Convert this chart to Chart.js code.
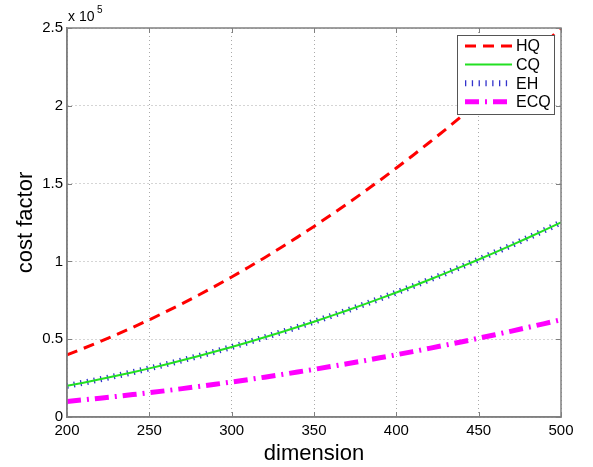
<!DOCTYPE html>
<html>
<head>
<meta charset="utf-8">
<script src="https://cdn.jsdelivr.net/npm/chart.js@4/dist/chart.umd.min.js"></script>
<style>
  html, body { margin: 0; padding: 0; background: #fff; }
  #wrap { width: 593px; height: 467px; }
</style>
</head>
<body>
<div id="wrap"><canvas id="cost-chart" width="593" height="467"></canvas></div>
<script>
// dimension values (x)
const dims = [200, 210, 220, 230, 240, 250, 260, 270, 280, 290, 300,
  310, 320, 330, 340, 350, 360, 370, 380, 390, 400,
  410, 420, 430, 440, 450, 460, 470, 480, 490, 500];

const hqCost = [40000, 44100, 48400, 52900, 57600, 62500, 67600, 72900, 78400, 84100, 90000,
  96100, 102400, 108900, 115600, 122500, 129600, 136900, 144400, 152100, 160000,
  168100, 176400, 184900, 193600, 202500, 211600, 220900, 230400, 240100, 250000];

const cqCost = [20000, 22050, 24200, 26450, 28800, 31250, 33800, 36450, 39200, 42050, 45000,
  48050, 51200, 54450, 57800, 61250, 64800, 68450, 72200, 76050, 80000,
  84050, 88200, 92450, 96800, 101250, 105800, 110450, 115200, 120050, 125000];

const ehCost = [20000, 22050, 24200, 26450, 28800, 31250, 33800, 36450, 39200, 42050, 45000,
  48050, 51200, 54450, 57800, 61250, 64800, 68450, 72200, 76050, 80000,
  84050, 88200, 92450, 96800, 101250, 105800, 110450, 115200, 120050, 125000];

const ecqCost = [10000, 11025, 12100, 13225, 14400, 15625, 16900, 18225, 19600, 21025, 22500,
  24025, 25600, 27225, 28900, 30625, 32400, 34225, 36100, 38025, 40000,
  42025, 44100, 46225, 48400, 50625, 52900, 55225, 57600, 60025, 62500];

const xTicks = [200, 250, 300, 350, 400, 450, 500];
const yTicks = [0, 50000, 100000, 150000, 200000, 250000];

const toPoints = ys => dims.map((d, i) => ({ x: d, y: ys[i] }));
const FONT = 'Arial, "Liberation Sans", sans-serif';

// legend box inside the plot, top right
const boxLegend = {
  id: 'boxLegend',
  afterDatasetsDraw(chart) {
    const ctx = chart.ctx;
    const x0 = 457, y0 = 35, w = 97, h = 79;
    ctx.save();
    ctx.fillStyle = '#fff';
    ctx.fillRect(x0, y0, w, h);
    ctx.strokeStyle = '#555';
    ctx.lineWidth = 1;
    ctx.strokeRect(x0 + 0.5, y0 + 0.5, w, h);
    chart.data.datasets.forEach((ds, i) => {
      const y = 46 + i * 18.6;
      ctx.beginPath();
      ctx.strokeStyle = ds.borderColor;
      ctx.lineWidth = ds.borderWidth;
      ctx.lineCap = 'butt';
      ctx.setLineDash(ds.borderDash || []);
      ctx.moveTo(465, y);
      ctx.lineTo(512, y);
      ctx.stroke();
      ctx.setLineDash([]);
      ctx.fillStyle = '#000';
      ctx.font = '16px ' + FONT;
      ctx.textBaseline = 'middle';
      ctx.fillText(ds.label, 516, y + 1);
    });
    ctx.restore();
  }
};

// "x 10^5" exponent label above the y axis
const expLabel = {
  id: 'expLabel',
  afterDraw(chart) {
    const ctx = chart.ctx;
    ctx.save();
    ctx.fillStyle = '#000';
    ctx.textBaseline = 'alphabetic';
    ctx.font = '14px ' + FONT;
    ctx.fillText('x 10', 68, 21);
    ctx.font = '10px ' + FONT;
    ctx.fillText('5', 97, 13);
    ctx.restore();
  }
};

// frame round the plot, with small inward ticks
const frame = {
  id: 'frame',
  afterDatasetsDraw(chart) {
    const { left, right, top, bottom } = chart.chartArea;
    const ctx = chart.ctx;
    ctx.save();
    ctx.strokeStyle = '#808080';
    ctx.lineWidth = 1.5;
    ctx.strokeRect(left, top, right - left, bottom - top);
    ctx.lineWidth = 1;
    ctx.beginPath();
    chart.scales.x.ticks.forEach(t => {
      const px = Math.round(chart.scales.x.getPixelForValue(t.value)) + 0.5;
      ctx.moveTo(px, bottom); ctx.lineTo(px, bottom - 5);
      ctx.moveTo(px, top); ctx.lineTo(px, top + 5);
    });
    chart.scales.y.ticks.forEach(t => {
      const py = Math.round(chart.scales.y.getPixelForValue(t.value)) + 0.5;
      ctx.moveTo(left, py); ctx.lineTo(left + 5, py);
      ctx.moveTo(right, py); ctx.lineTo(right - 5, py);
    });
    ctx.stroke();
    ctx.restore();
  }
};

new Chart(document.getElementById('cost-chart'), {
  type: 'line',
  data: {
    datasets: [
      { label: 'HQ', data: toPoints(hqCost), borderColor: '#ff0000', borderWidth: 3,
        borderDash: [11, 7], pointRadius: 0, tension: 0 },
      { label: 'CQ', data: toPoints(cqCost), borderColor: '#22e022', borderWidth: 2,
        pointRadius: 0, tension: 0 },
      { label: 'EH', data: toPoints(ehCost), borderColor: '#3333cc', borderWidth: 6,
        borderDash: [1.3, 5.5], pointRadius: 0, tension: 0 },
      { label: 'ECQ', data: toPoints(ecqCost), borderColor: '#ff00ff', borderWidth: 5,
        borderDash: [14, 6, 2, 6], pointRadius: 0, tension: 0 }
    ]
  },
  options: {
    responsive: false,
    animation: false,
    layout: { padding: { left: 13, right: 32, top: 28, bottom: 0 } },
    plugins: { legend: { display: false }, tooltip: { enabled: false } },
    scales: {
      x: {
        type: 'linear',
        min: 200, max: 500,
        afterBuildTicks: s => { s.ticks = xTicks.map(v => ({ value: v })); },
        afterFit: s => { s.height = 50; },
        ticks: { color: '#000', font: { family: FONT, size: 15 }, padding: 5, maxRotation: 0 },
        grid: { color: '#aaa', lineWidth: 1, drawTicks: false },
        border: { display: true, color: '#808080', width: 1.5, dash: [1, 3] },
        title: { display: true, text: 'dimension', color: '#000',
          font: { family: FONT, size: 22 }, padding: { top: 0, bottom: 0 } }
      },
      y: {
        min: 0, max: 250000,
        afterBuildTicks: s => { s.ticks = yTicks.map(v => ({ value: v })); },
        afterFit: s => { s.width = 54; },
        ticks: { color: '#000', font: { family: FONT, size: 15 }, padding: 4,
          callback: v => String(v / 100000) },
        grid: { color: '#aaa', lineWidth: 1, drawTicks: false },
        border: { display: true, color: '#808080', width: 1.5, dash: [1, 3] },
        title: { display: true, text: 'cost factor', color: '#000',
          font: { family: FONT, size: 22 }, padding: { top: 0, bottom: 4 } }
      }
    }
  },
  plugins: [frame, boxLegend, expLabel]
});
</script>
</body>
</html>
